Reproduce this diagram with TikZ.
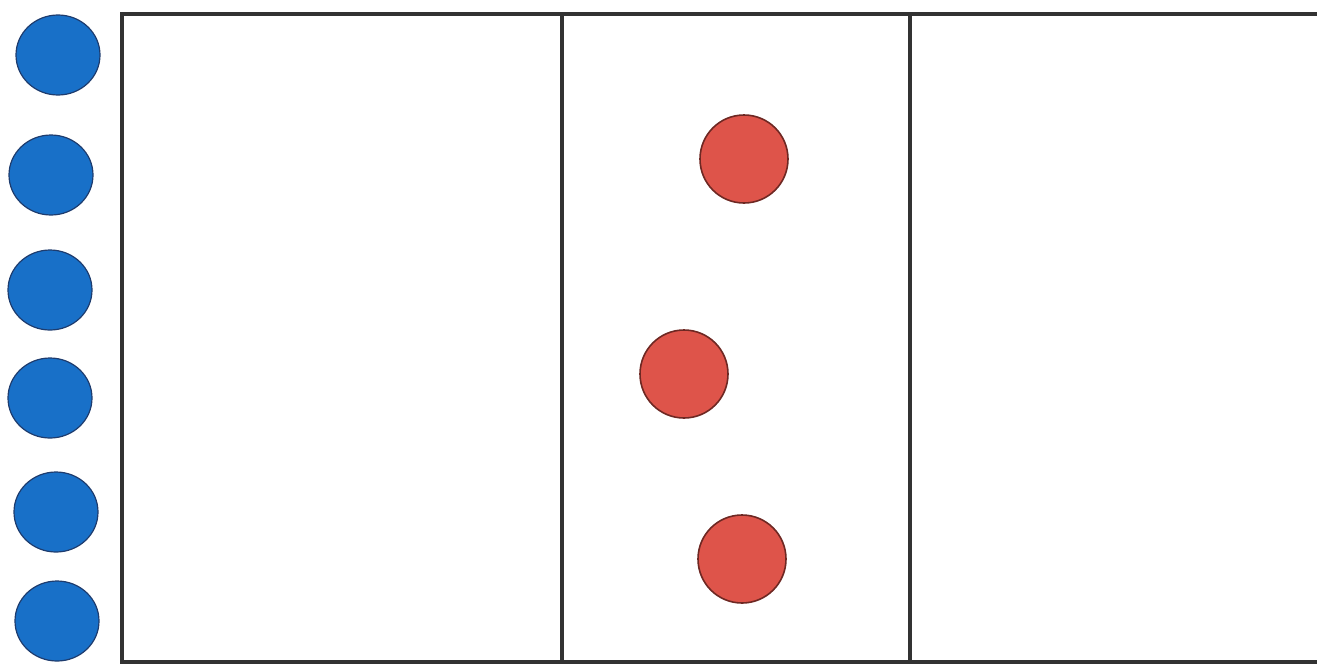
\documentclass[tikz,border=0pt]{standalone}
\usepackage{tikz}
\usetikzlibrary{shapes.geometric}
\usepackage{xcolor}
\definecolor{chipblue}{RGB}{24,112,200}
\definecolor{chipblueedge}{RGB}{30,60,110}
\definecolor{chipred}{RGB}{222,84,74}
\definecolor{chipredge}{RGB}{110,40,35}
\definecolor{courtline}{RGB}{50,50,50}
\tikzset{
  bluechip/.style = {draw=chipblueedge, fill=chipblue, ellipse, line width=0.6pt,
                     minimum width=42pt, minimum height=40pt, inner sep=0pt},
  redchip/.style  = {draw=chipredge, fill=chipred, ellipse, line width=0.8pt,
                     minimum width=44pt, minimum height=44pt, inner sep=0pt},
  courtedge/.style = {draw=courtline, line width=2pt, line cap=rect}
}
\begin{document}
\begin{tikzpicture}[x=0.5pt, y=-0.5pt]
  \useasboundingbox (0,0) rectangle (1317,670);

  % court outline and zones
  \draw[courtedge] (1317,14) -- (122,14) -- (122,662) -- (1317,662);
  \draw[courtedge] (562,14) -- (562,662);
  \draw[courtedge] (910,14) -- (910,662);

  % bench
  \node[bluechip] (b1) at (58,55)  {};
  \node[bluechip] (b2) at (51,175) {};
  \node[bluechip] (b3) at (50,290) {};
  \node[bluechip] (b4) at (50,398) {};
  \node[bluechip] (b5) at (56,512) {};
  \node[bluechip] (b6) at (57,621) {};

  % middle zone
  \node[redchip] (r1) at (744,159) {};
  \node[redchip] (r2) at (684,374) {};
  \node[redchip] (r3) at (742,559) {};
\end{tikzpicture}
\end{document}
